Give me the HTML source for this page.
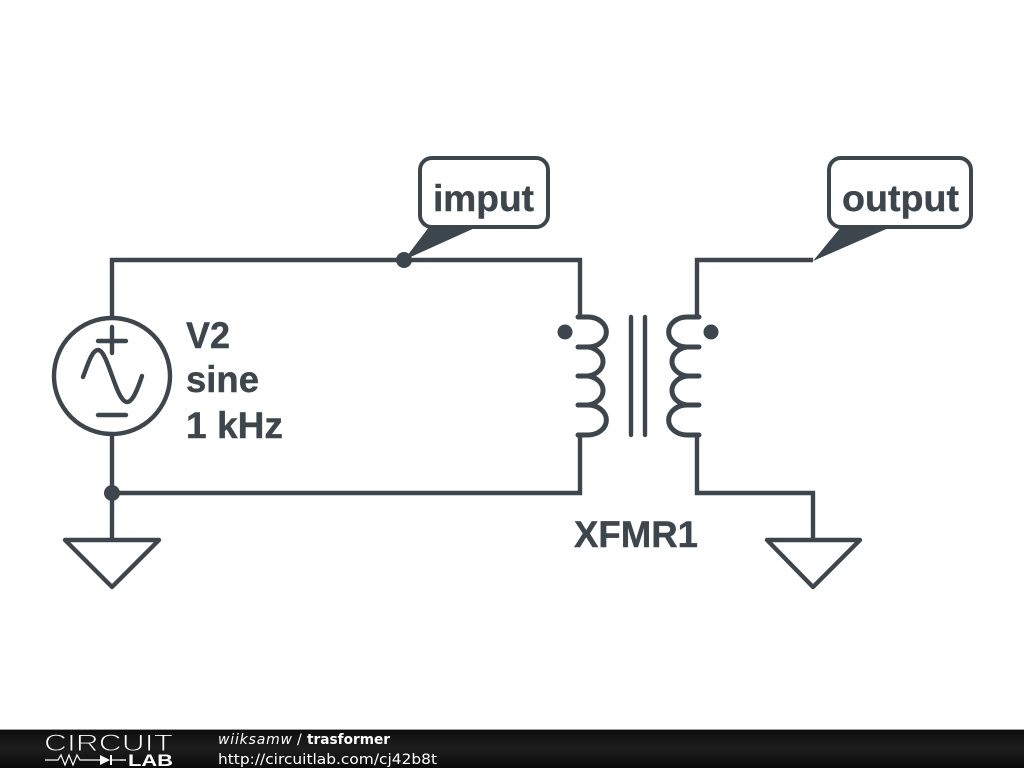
<!DOCTYPE html>
<html><head><meta charset="utf-8"><style>
html,body{margin:0;padding:0;background:#fff;width:1024px;height:768px;overflow:hidden}
svg{display:block}
</style></head><body>
<svg xmlns="http://www.w3.org/2000/svg" width="1024" height="768" viewBox="0 0 1024 768">
<defs><linearGradient id="g" x1="0" y1="0" x2="0" y2="1"><stop offset="0" stop-color="#0c0c0c"/><stop offset="0.5" stop-color="#1e1e1e"/><stop offset="1" stop-color="#0a0a0a"/></linearGradient></defs>
<rect width="1024" height="768" fill="#fff"/>
<g fill="none" stroke="#3c464c" stroke-width="4.4" stroke-linejoin="miter">
<path d="M112 318V260H580V317"/>
<path d="M112 434V540"/>
<path d="M112 493H580V435"/>
<path d="M697 317V260H813"/>
<path d="M697 435V493H813V540"/>
</g>
<g fill="none" stroke="#3c464c" stroke-width="4.4" stroke-linecap="round" stroke-linejoin="round">
<circle cx="112" cy="376" r="58"/>
<path d="M98 341H126M112 327V353M98 415H126"/>
<path d="M83 377C88 364 92 350 98 350C108 350 116 402 127 402C133 402 138 388 142 376"/>
<path d="M578 317H588A18 14.7 0 0 1 588 347H578M588 347A18 14.7 0 0 1 588 376H578M588 376A18 14.7 0 0 1 588 405H578M588 405A18 14.7 0 0 1 588 435H578" stroke-width="5"/>
<path d="M699 317H687A18 14.7 0 0 0 687 347H699M687 347A18 14.7 0 0 0 687 376H699M687 376A18 14.7 0 0 0 687 405H699M687 405A18 14.7 0 0 0 687 435H699" stroke-width="5"/>
<path d="M631 317V435M645 317V435"/>
<path d="M65 540H159L112 587Z"/>
<path d="M767 540H860L813 587Z"/>
</g>
<g fill="#3c464c">
<circle cx="565" cy="332" r="7.5"/><circle cx="711" cy="332" r="7.5"/>
<circle cx="404" cy="260" r="8"/><circle cx="112" cy="493" r="8"/>
</g>
<g fill="#fff" stroke="#3c464c" stroke-width="4">
<rect x="420" y="158" width="128" height="69" rx="12"/>
<rect x="829" y="158" width="142" height="69" rx="12"/>
</g>
<g fill="#3c464c">
<path d="M404 260L429 227H477Z"/>
<path d="M813 261L841 227H891Z"/>
</g>
<g font-family="'Liberation Sans',sans-serif" font-weight="700" font-size="37" fill="#3c464c" stroke="#3c464c" stroke-width="0.4">
<text x="433" y="211" textLength="101" lengthAdjust="spacingAndGlyphs">imput</text>
<text x="842" y="211" textLength="117" lengthAdjust="spacingAndGlyphs">output</text>
<text x="186" y="348" textLength="44" lengthAdjust="spacingAndGlyphs">V2</text>
<text x="186" y="392" textLength="73" lengthAdjust="spacingAndGlyphs">sine</text>
<text x="186" y="438" textLength="97" lengthAdjust="spacingAndGlyphs">1 kHz</text>
<text x="574" y="547" textLength="124" lengthAdjust="spacingAndGlyphs">XFMR1</text>
</g>
<rect x="0" y="729" width="1024" height="39" fill="url(#g)"/>
<rect x="0" y="729" width="1024" height="1" fill="#9a9a9a"/>
<text x="44" y="751" font-family="'Liberation Sans',sans-serif" font-size="24" fill="#fff" stroke="#151515" stroke-width="0.9" textLength="129" lengthAdjust="spacingAndGlyphs">CIRCUIT</text>
<text x="128" y="766" font-family="'Liberation Sans',sans-serif" font-weight="700" font-size="17" fill="#fff" textLength="45" lengthAdjust="spacingAndGlyphs">LAB</text>
<path d="M45 760H58L61 755L65 765L69 755L73 765L77 755L80 760H100M120 760H126" fill="none" stroke="#fff" stroke-width="1.2"/>
<path d="M100 755V765L110 760Z M110 755H112V765H110Z" fill="#fff"/>
<path d="M110 760H125" stroke="#fff" stroke-width="1.2"/>
<g font-family="'DejaVu Sans',sans-serif" font-size="14" fill="#fff">
<text x="218" y="744" font-style="italic" textLength="74" lengthAdjust="spacing">wiiksamw</text>
<text x="297" y="744">/</text>
<text x="307" y="744" font-weight="700" textLength="83" lengthAdjust="spacingAndGlyphs">trasformer</text>
<text x="218" y="764" font-size="14.5" textLength="219" lengthAdjust="spacingAndGlyphs">http://circuitlab.com/cj42b8t</text>
</g>
</svg>
</body></html>
